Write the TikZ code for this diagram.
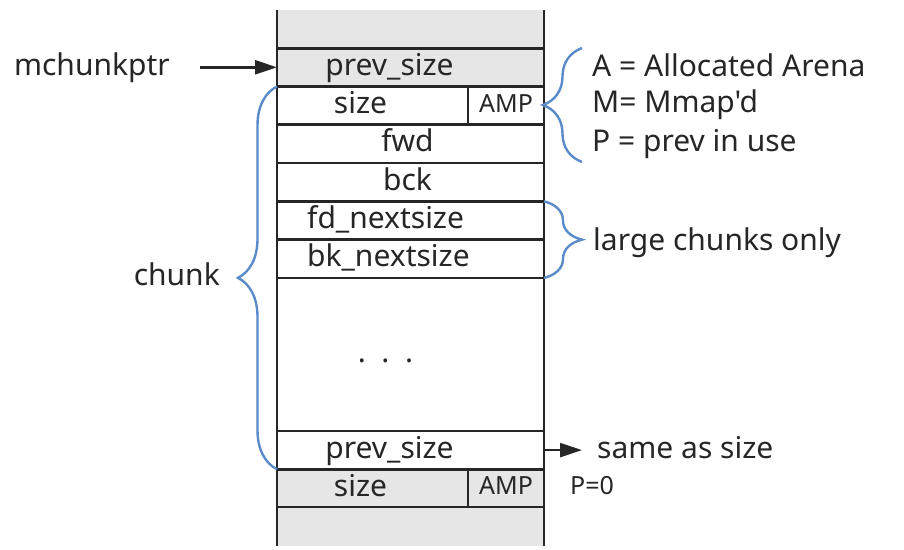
\documentclass[tikz,border=0pt]{standalone}
\usepackage{fontspec}
\newfontfamily\diagfont{Noto Sans}
\usetikzlibrary{arrows.meta,positioning,decorations.pathreplacing}
\definecolor{ink}{HTML}{262626}
\definecolor{shade}{HTML}{E6E6E6}
\definecolor{bracecol}{HTML}{5B8BC9}

\begin{document}
\begin{tikzpicture}[x=1pt, y=-1pt,
  cell/.style={draw=ink, line width=2.8pt, minimum width=267pt, minimum height=38.3pt,
               inner sep=0pt, outer sep=0pt},
  gapcell/.style={fill=shade, minimum width=267pt, minimum height=38.3pt, inner sep=0pt, outer sep=0pt},
  txt/.style={font=\diagfont\fontsize{30}{34}\selectfont, text=ink, inner sep=0pt,
              text height=20pt, text depth=4pt},
  small/.style={font=\diagfont\fontsize{25}{29}\selectfont, text=ink, inner sep=0pt,
              text height=17pt, text depth=4pt},
  brc/.style={draw=bracecol, line width=2.4pt, decorate, decoration={brace, amplitude=#1}},
  arr/.style={-{Triangle[length=22pt, width=14pt]}, draw=ink, line width=2.4pt}
]
\useasboundingbox (0,0) rectangle (904,549);

% the chunk column
\node[gapcell] (topgap) at (410.5,29) {};
\node[cell, fill=shade, below=0pt of topgap] (prev1) {};
\node[cell, minimum width=191pt, anchor=north west] (size1) at (prev1.south west) {};
\node[cell, minimum width=76pt, anchor=north west] (amp1) at (size1.north east) {};
\node[cell, anchor=north west] (fwd) at (size1.south west) {};
\node[cell, below=0pt of fwd] (bck) {};
\node[cell, below=0pt of bck] (fdns) {};
\node[cell, below=0pt of fdns] (bkns) {};
\node[cell, minimum height=153pt, below=0pt of bkns] (body) {};
\node[cell, below=0pt of body] (prev2) {};
\node[cell, fill=shade, minimum width=191pt, anchor=north west] (size2) at (prev2.south west) {};
\node[cell, fill=shade, minimum width=76pt, anchor=north west] (amp2) at (size2.north east) {};
\node[gapcell, anchor=north west] (botgap) at (size2.south west) {};
\draw[ink, line width=2.8pt] (topgap.north west) -- (botgap.south west);
\draw[ink, line width=2.8pt] (topgap.north east) -- (botgap.south east);

% field names
\node[txt] (tprev1) at ([xshift=-21pt]prev1.center) {prev\_size};
\node[txt] (tsize1) at ([xshift=-12pt]size1.center) {size};
\node[small] (tamp1) at (amp1.center) {AMP};
\node[txt] (tfwd) at ([xshift=-3pt]fwd.center) {fwd};
\node[txt] (tbck) at ([xshift=-3pt]bck.center) {bck};
\node[txt, anchor=west] (tfdns) at ([xshift=30pt]fdns.west) {fd\_nextsize};
\node[txt, anchor=west] (tbkns) at ([xshift=30pt]bkns.west) {bk\_nextsize};
\node[txt] (tdots) at ([xshift=-25pt]body.center) {.\ \ .\ \ .};
\node[txt] (tprev2) at ([xshift=-21pt]prev2.center) {prev\_size};
\node[txt] (tsize2) at ([xshift=-12pt]size2.center) {size};
\node[small] (tamp2) at (amp2.center) {AMP};

% pointer and braces
\node[txt, left=107pt of prev1] (mptr) {mchunkptr};
\draw[arr] ([xshift=30pt]mptr.east) -- (prev1.west);
\draw[brc=39pt] (prev2.south west) -- (size1.north west);
\node[txt, anchor=east] (chunk) at (220,277) {chunk};

\coordinate (legtop) at (582,48);
\coordinate (legbot) at (582,162);
\draw[brc=39pt] (legbot) -- (legtop);
\node[txt, anchor=west] (legA) at (592,68) {A = Allocated Arena};
\node[txt, anchor=west] (legM) at (592,104) {M= Mmap'd};
\node[txt, anchor=west] (legP) at (592,143) {P = prev in use};

\draw[brc=38pt] (fdns.north east) -- (bkns.south east);
\node[txt, anchor=west] (large) at (593,242) {large chunks only};

\node[txt, right=53pt of prev2] (same) {same as size};
\draw[arr] (prev2.east) -- ([xshift=-15pt]same.west);
\node[small, anchor=west] (pzero) at (570,488) {P=0};
\end{tikzpicture}
\end{document}
